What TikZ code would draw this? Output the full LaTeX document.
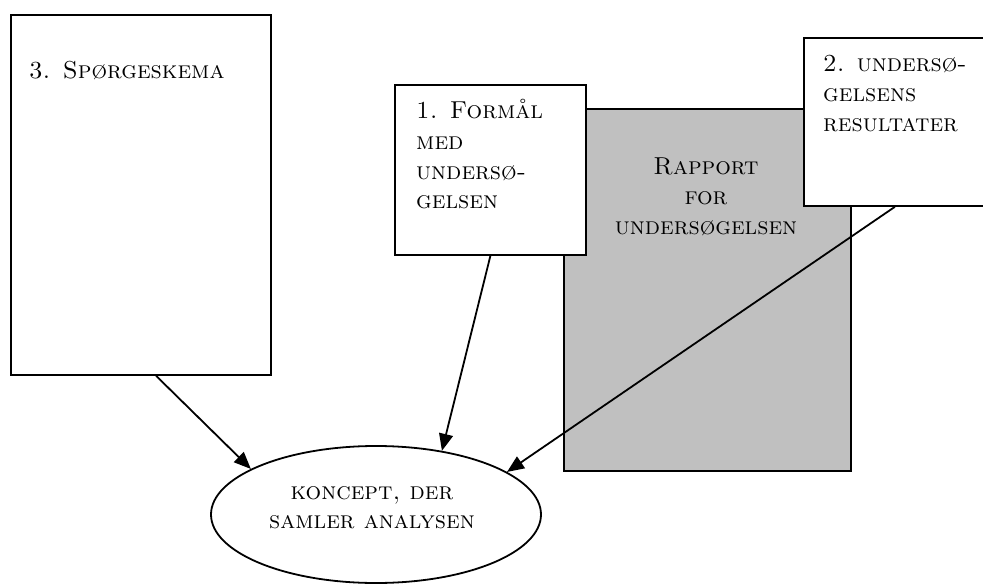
\documentclass[tikz,border=0pt]{standalone}
\usepackage{fontspec}
\usetikzlibrary{arrows.meta,shapes.geometric,calc}
\definecolor{rapgray}{HTML}{C0C0C0}
\begin{document}
\begin{tikzpicture}[x=1pt,y=-1pt,
  box/.style={draw, line width=1.8pt, fill=white, anchor=north west, inner sep=0pt},
  lbl/.style={font=\fontsize{24.5}{30}\selectfont\scshape, inner sep=0pt},
  arr/.style={line width=1.8pt, -{Triangle[length=17pt,width=14pt]}}]
\useasboundingbox (0,0) rectangle (983,586);
% boxes
\node[box, minimum width=260pt, minimum height=360pt] (b3) at (10,14) {};
\node[box, fill=rapgray, minimum width=287pt, minimum height=362pt] (rap) at (563,108) {};
\node[box, minimum width=191pt, minimum height=170pt] (b1) at (394,84) {};
\node[box, minimum width=182pt, minimum height=168pt] (b2) at (803,37) {};
\node[draw, ellipse, line width=1.8pt, minimum width=330pt, minimum height=137pt, inner sep=0pt] (kon) at (376,514.5) {};
% texts
\node[lbl, anchor=base west] (t3) at (29,79) {3. Spørgeskema};
\node[lbl, anchor=base west] (t1a) at (416,118) {1. Formål};
\node[lbl, anchor=base west] (t1b) at (416,149) {med};
\node[lbl, anchor=base west] (t1c) at (416,179) {undersø-};
\node[lbl, anchor=base west] (t1d) at (416,208) {gelsen};
\node[lbl, anchor=base west] (t2a) at (823,72) {2. undersø-};
\node[lbl, anchor=base west] (t2b) at (823,102) {gelsens};
\node[lbl, anchor=base west] (t2c) at (823,131) {resultater};
\node[lbl, anchor=base] (tra) at (706,174) {Rapport};
\node[lbl, anchor=base] (trb) at (706,204) {for};
\node[lbl, anchor=base] (trc) at (706,234) {undersøgelsen};
\node[lbl, anchor=base] (tka) at (372,499) {koncept, der};
\node[lbl, anchor=base] (tkb) at (372,528) {samler analysen};
% arrows
\draw[arr] ($(b3.south west)!0.558!(b3.south east)$) -- (kon.160);
\draw[arr] (b1.south) -- (kon.44);
\draw[arr] (b2.south) -- (kon.18);
\end{tikzpicture}
\end{document}
